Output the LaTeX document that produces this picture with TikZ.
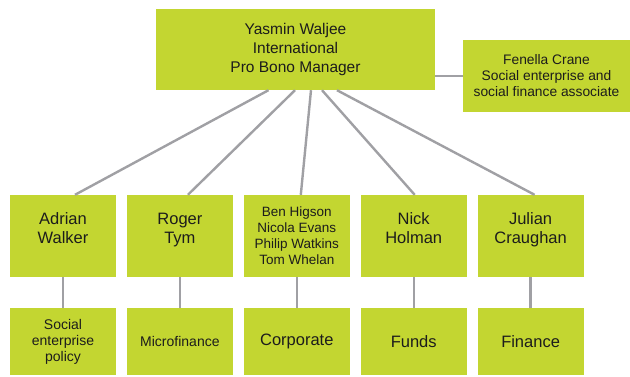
\documentclass[tikz,border=0pt]{standalone}
\usepackage{fontspec}
\setmainfont{Liberation Sans}
\usepackage{tikz}
\usetikzlibrary{positioning}
\usepackage{xcolor}
\definecolor{pbgreen}{HTML}{C3D631}
\definecolor{pbgrey}{HTML}{A0A0A4}
\definecolor{pbtext}{HTML}{1C1C1C}

\begin{document}
\begin{tikzpicture}[
  x=1pt, y=1pt,
  node distance=10.5pt,
  box/.style={fill=pbgreen, text=pbtext, align=center, inner sep=0pt},
  head/.style={box, minimum width=279pt, minimum height=81pt, font=\fontsize{15.5}{19}\selectfont},
  side/.style={box, minimum width=167pt, minimum height=72pt, font=\fontsize{13.8}{16}\selectfont},
  person/.style={box, minimum width=106pt, minimum height=82pt, font=\fontsize{16.5}{19}\selectfont, text depth=15pt},
  team/.style={box, minimum width=106pt, minimum height=82pt, font=\fontsize{13.5}{16}\selectfont},
  area/.style={box, minimum width=106pt, minimum height=67pt, font=\fontsize{16.5}{19}\selectfont},
  small/.style={font=\fontsize{14}{16}\selectfont},
  link/.style={draw=pbgrey, line width=2.4pt}
]
\useasboundingbox (0,0) rectangle (630,-376);

\node[head] (mgr) at (295.5,-49.5) {Yasmin Waljee\\International\\Pro Bono Manager};
\node[side] (assoc) at (546.5,-76) {Fenella Crane\\Social enterprise and\\social finance associate};

\node[person] (adrian) at (63,-236) {Adrian\\Walker};
\node[person, right=of adrian] (roger) {Roger\\Tym};
\node[team, right=of roger] (team) {Ben Higson\\Nicola Evans\\Philip Watkins\\Tom Whelan};
\node[person, right=of team] (nick) {Nick\\Holman};
\node[person, right=of nick] (julian) {Julian\\Craughan};

\node[area, small, below=31pt of adrian] (policy) {Social\\enterprise\\policy};
\node[area, small, below=31pt of roger] (micro) {Microfinance};
\node[area, below=31pt of team] (corp) {Corporate};
\node[area, below=31pt of nick] (funds) {Funds};
\node[area, below=31pt of julian] (fin) {Finance};

\draw[link] (assoc.west) -- (assoc.west -| mgr.east);

\draw[link] ([xshift=-27pt]mgr.south) -- ([xshift=12pt]adrian.north);
\draw[link] ([xshift=-0.5pt]mgr.south) -- ([xshift=8pt]roger.north);
\draw[link] ([xshift=15.5pt]mgr.south) -- ([xshift=4pt]team.north);
\draw[link] ([xshift=26.5pt]mgr.south) -- ([xshift=1pt]nick.north);
\draw[link] ([xshift=41.5pt]mgr.south) -- ([xshift=4pt]julian.north);

\draw[link] (adrian) -- (policy);
\draw[link] (roger) -- (micro);
\draw[link] (team) -- (corp);
\draw[link] (nick) -- (funds);
\draw[link] (julian) -- (fin);
\end{tikzpicture}
\end{document}
